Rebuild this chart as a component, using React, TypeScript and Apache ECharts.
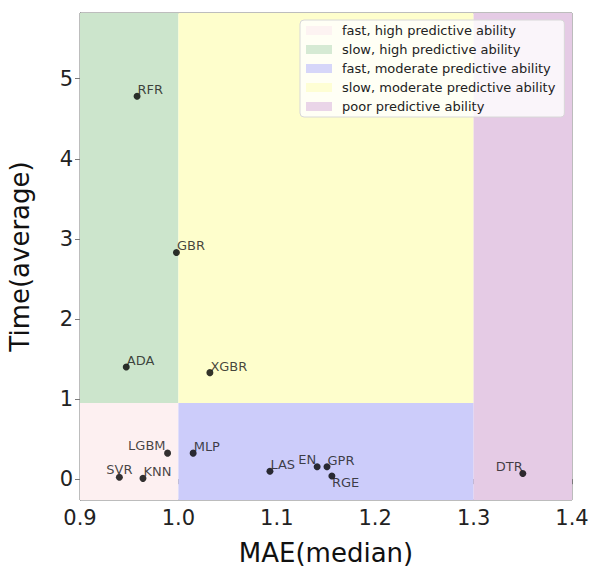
import React, { useEffect, useRef } from "react";
import * as echarts from "echarts";

// Models: MAE(median) vs Time(average)
const modelNames = ["RFR", "GBR", "ADA", "XGBR", "LGBM", "MLP", "SVR", "KNN", "LAS", "EN", "GPR", "RGE", "DTR"];
const maeValues = [0.958, 0.998, 0.947, 1.032, 0.989, 1.015, 0.940, 0.964, 1.093, 1.141, 1.151, 1.156, 1.350];
const timeValues = [4.78, 2.83, 1.40, 1.33, 0.325, 0.325, 0.025, 0.01, 0.10, 0.155, 0.155, 0.04, 0.07];

// Regions: [xFrom, xTo, yFrom, yTo]
const regionNames = [
  "fast, high predictive ability",
  "slow, high predictive ability",
  "fast, moderate predictive ability",
  "slow, moderate predictive ability",
  "poor predictive ability",
];
const regionXFrom = [0.9, 0.9, 1.0, 1.0, 1.3];
const regionXTo = [1.0, 1.0, 1.3, 1.3, 1.4];
const regionYFrom = [-0.26, 0.95, -0.26, 0.95, -0.26];
const regionYTo = [0.95, 5.82, 0.95, 5.82, 5.82];
const regionColors = ["#fdf0f1", "#cce5cc", "#ccccfa", "#fefecc", "#e5cbe5"];

const xTicks = [0.9, 1.0, 1.1, 1.2, 1.3, 1.4];
const yTicks = [0, 1, 2, 3, 4, 5];

// label placement styles (not data)
const labelPlace: Record<string, { align: string; vAlign: string; pos: number[] }> = {
  LGBM: { align: "right", vAlign: "bottom", pos: [1.5, 2.5] },
  SVR: { align: "center", vAlign: "bottom", pos: [3.5, 2.5] },
  EN: { align: "right", vAlign: "bottom", pos: [2.5, 2.5] },
  DTR: { align: "right", vAlign: "bottom", pos: [3.5, 2.5] },
  RGE: { align: "left", vAlign: "top", pos: [3.5, 3.5] },
};
const defaultPlace = { align: "left", vAlign: "bottom", pos: [4, 3.5] };

export default function App() {
  const ref = useRef<HTMLDivElement>(null);
  useEffect(() => {
    if (!ref.current) return;
    const chart = echarts.init(ref.current, null, { renderer: "svg" });
    const font = "DejaVu Sans";
    const regionSeries = regionNames.map((name, i) => ({
      name,
      type: "scatter",
      data: [],
      itemStyle: { color: regionColors[i] },
      silent: true,
      markArea: {
        silent: true,
        itemStyle: { color: regionColors[i], opacity: 1 },
        data: [
          [
            { xAxis: regionXFrom[i], yAxis: regionYFrom[i] },
            { xAxis: regionXTo[i], yAxis: regionYTo[i] },
          ],
        ],
      },
    }));
    const points = modelNames.map((n, i) => {
      const p = labelPlace[n] || defaultPlace;
      return {
        value: [maeValues[i], timeValues[i]],
        name: n,
        label: {
          show: true,
          formatter: n,
          position: p.pos,
          align: p.align,
          verticalAlign: p.vAlign,
          color: "#151515",
          fontSize: 13,
          fontFamily: font,
        },
      };
    });
    chart.setOption({
      animation: false,
      textStyle: { fontFamily: font },
      grid: {
        left: 80,
        right: 17,
        top: 13,
        bottom: 67,
        outerBoundsMode: "none",
        containLabel: false,
        show: true,
        borderColor: "#7a7a7a",
        borderWidth: 1,
        backgroundColor: "transparent",
      },
      legend: {
        data: regionNames,
        orient: "vertical",
        left: 300,
        top: 20,
        icon: "rect",
        itemWidth: 26,
        itemHeight: 9,
        itemGap: 6,
        padding: [4, 9, 4, 6],
        backgroundColor: "rgba(255,255,255,0.8)",
        borderColor: "#d8d8d8",
        borderWidth: 1,
        borderRadius: 4,
        selectedMode: false,
        textStyle: { fontSize: 13, color: "#222", fontFamily: font, padding: [0, 0, 0, 5] },
      },
      xAxis: {
        type: "value",
        min: 0.9,
        max: 1.4,
        name: "MAE(median)",
        nameLocation: "middle",
        nameGap: 40,
        nameTextStyle: { fontSize: 26, color: "#111", fontFamily: font },
        splitLine: { show: false },
        axisLine: { show: true, lineStyle: { color: "#7a7a7a" } },
        axisTick: { show: true, length: 5, lineStyle: { color: "#7a7a7a" }, customValues: xTicks },
        axisLabel: {
          fontSize: 21,
          color: "#222",
          margin: 7,
          customValues: xTicks,
          formatter: (v: number) => v.toFixed(1),
        },
      },
      yAxis: {
        type: "value",
        min: -0.26,
        max: 5.82,
        name: "Time(average)",
        nameLocation: "middle",
        nameGap: 47,
        nameTextStyle: { fontSize: 26, color: "#111", fontFamily: font },
        splitLine: { show: false },
        axisLine: { show: true, lineStyle: { color: "#7a7a7a" } },
        axisTick: { show: true, length: 5, lineStyle: { color: "#7a7a7a" }, customValues: yTicks },
        axisLabel: {
          fontSize: 21,
          color: "#222",
          margin: 7,
          customValues: yTicks,
          formatter: (v: number) => String(Math.round(v)),
        },
      },
      series: [
        ...regionSeries,
        {
          name: "models",
          type: "scatter",
          symbolSize: 7,
          itemStyle: { color: "#000" },
          label: { fontSize: 13, color: "#151515", fontFamily: font },
          data: points,
          z: 5,
        },
      ],
    });
    return () => chart.dispose();
  }, []);
  return <div ref={ref} style={{ width: 589, height: 567, position: "absolute", left: 0, top: 0 }} />;
}
